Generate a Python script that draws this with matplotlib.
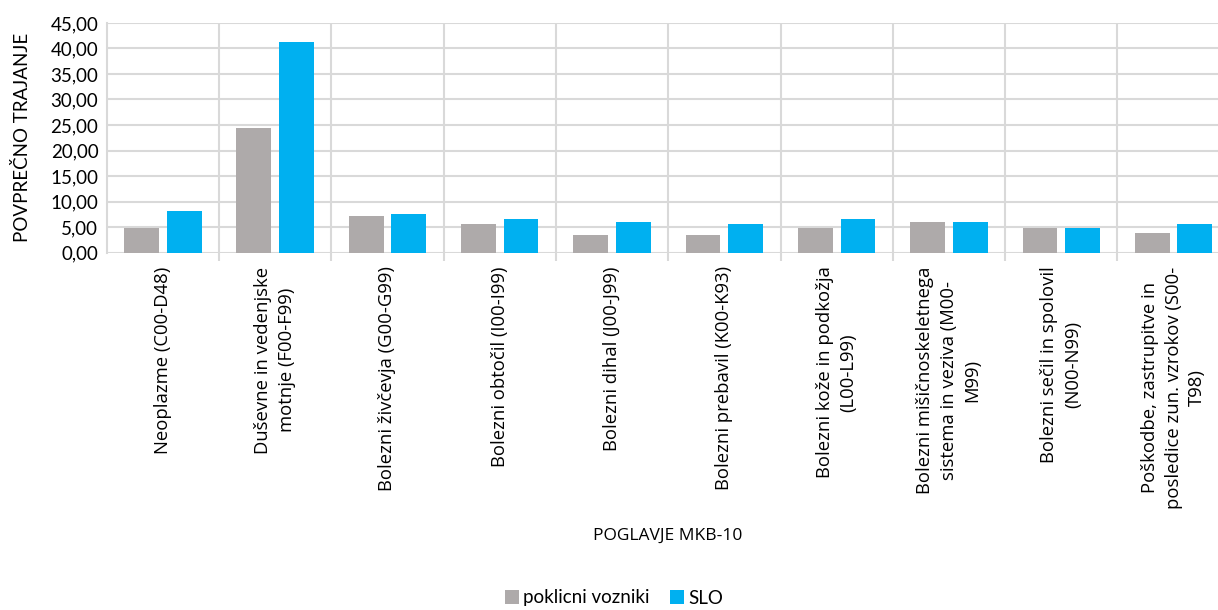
import matplotlib
matplotlib.use("Agg")
import matplotlib.pyplot as plt
import numpy as np
from matplotlib.ticker import FuncFormatter, MultipleLocator

# povprečno trajanje bolniškega staleža po poglavjih MKB-10
poglavja = [
    "Neoplazme (C00-D48)",
    "Duševne in vedenjske\nmotnje (F00-F99)",
    "Bolezni živčevja (G00-G99)",
    "Bolezni obtočil (I00-I99)",
    "Bolezni dihal (J00-J99)",
    "Bolezni prebavil (K00-K93)",
    "Bolezni kože in podkožja\n(L00-L99)",
    "Bolezni mišičnoskeletnega\nsistema in veziva (M00-\nM99)",
    "Bolezni sečil in spolovil\n(N00-N99)",
    "Poškodbe, zastrupitve in\nposledice zun. vzrokov (S00-\nT98)",
]
poklicni_vozniki = [4.9, 24.4, 7.1, 5.5, 3.4, 3.4, 4.9, 6.0, 4.9, 3.9]
slo = [8.1, 41.2, 7.6, 6.5, 6.0, 5.5, 6.5, 6.0, 4.9, 5.5]

siva = "#AEAAAA"
modra = "#00B0F0"
mreza = "#D9D9D9"

fig = plt.figure(figsize=(12.18, 6.10), dpi=100)
W, H = 1218, 610
left, right, top, bottom = 106.7, 1229.7, 23, 252.5
ax = fig.add_axes([left / W, 1 - bottom / H, (right - left) / W, (bottom - top) / H])

x = np.arange(len(poglavja))
w = 0.31
ax.bar(x - 0.19, poklicni_vozniki, w, color=siva, label="poklicni vozniki", zorder=3)
ax.bar(x + 0.19, slo, w, color=modra, label="SLO", zorder=3)

ax.set_xlim(-0.5, len(poglavja) - 0.5)
ax.set_ylim(0, 45)
ax.yaxis.set_major_locator(MultipleLocator(5))
ax.yaxis.set_major_formatter(FuncFormatter(lambda v, p: f"{v:.2f}".replace(".", ",")))

for s in ["top", "right", "bottom"]:
    ax.spines[s].set_visible(False)
ax.spines["left"].set_color(mreza)
ax.spines["left"].set_linewidth(1.5)

ax.grid(axis="y", color=mreza, linewidth=1.5, zorder=0)
ax.set_xticks(np.arange(0.5, len(poglavja) - 0.5), minor=True)
ax.grid(axis="x", which="minor", color=mreza, linewidth=1.5, zorder=0)
ax.tick_params(axis="x", which="minor", length=6, width=1.5, color=mreza)
ax.tick_params(axis="y", length=0, pad=6, labelsize=13.5)
for t in ax.get_yticklabels():
    t.set_family("Lato")

ax.set_xticks(x)
ax.set_xticklabels(poglavja, rotation=90, ha="center", va="top",
                   multialignment="center", family="Open Sans", fontsize=13.3,
                   linespacing=1.4)
ax.tick_params(axis="x", which="major", length=0, pad=10)

ax.set_ylabel("POVPREČNO TRAJANJE", family="Lato", fontsize=13.5, labelpad=14)
fig.text(668 / W, 1 - 536 / H, "POGLAVJE MKB-10", family="Open Sans",
         fontsize=12.5, ha="center", va="center")

fig.legend(loc="center", bbox_to_anchor=(614 / W, 1 - 598 / H), ncol=2,
           frameon=False, handlelength=0.75, handleheight=0.75, handletextpad=0.2,
           columnspacing=1.1, prop={"family": "Lato", "size": 13.5})

fig.savefig("out.png", dpi=100)
